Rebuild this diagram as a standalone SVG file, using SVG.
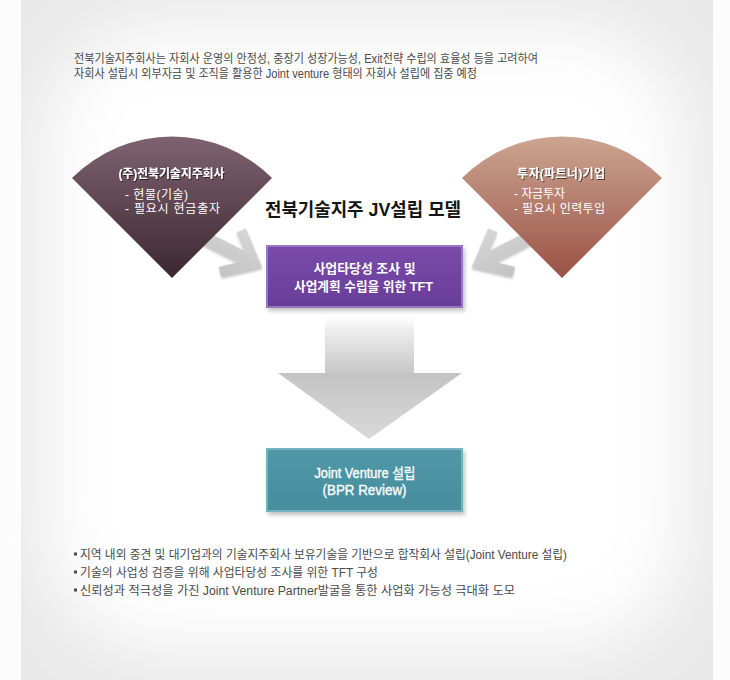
<svg xmlns="http://www.w3.org/2000/svg" width="730" height="680" viewBox="0 0 730 680">
<defs>
<style>
.txt{font-family:"Liberation Sans","Noto Sans CJK KR",sans-serif;}
.intro{font-size:12px;fill:#4a4a4a;}
.note{font-size:12px;fill:#4a4a4a;}
.fanh{font-size:12px;font-weight:bold;fill:#ffffff;}
.fanl{font-size:12px;fill:#ffffff;}
.boxt{font-size:13px;font-weight:bold;fill:#ffffff;}
.jvt{font-size:14px;fill:#ffffff;stroke:#ffffff;stroke-width:0.35;}
.title{font-size:18px;font-weight:bold;fill:#151515;}
.garrow{fill:url(#gArrow);}
</style>
<linearGradient id="gLeft" x1="0" y1="0" x2="0" y2="1">
<stop offset="0" stop-color="#7f6270"/>
<stop offset="1" stop-color="#3b2730"/>
</linearGradient>
<linearGradient id="gRight" x1="0" y1="0" x2="0" y2="1">
<stop offset="0" stop-color="#cca591"/>
<stop offset="1" stop-color="#995145"/>
</linearGradient>
<linearGradient id="gTft" x1="0" y1="0" x2="0" y2="1">
<stop offset="0" stop-color="#7a4bab"/>
<stop offset="1" stop-color="#683d98"/>
</linearGradient>
<linearGradient id="gJv" x1="0" y1="0" x2="0" y2="1">
<stop offset="0" stop-color="#5097a8"/>
<stop offset="1" stop-color="#468d9d"/>
</linearGradient>
<linearGradient id="gShaft" x1="0" y1="0" x2="0" y2="1">
<stop offset="0" stop-color="#ffffff" stop-opacity="0"/>
<stop offset="0.25" stop-color="#f0f0f0"/>
<stop offset="1" stop-color="#c6c6c6"/>
</linearGradient>
<linearGradient id="gHead" x1="0" y1="0" x2="0" y2="1">
<stop offset="0" stop-color="#c3c3c3"/>
<stop offset="1" stop-color="#d9d9d9"/>
</linearGradient>
<linearGradient id="gArrow" x1="0" y1="0" x2="0" y2="1">
<stop offset="0" stop-color="#d6d6d6"/>
<stop offset="1" stop-color="#c2c2c2"/>
</linearGradient>
<filter id="soft" x="-30%" y="-30%" width="160%" height="160%">
<feGaussianBlur stdDeviation="35"/>
</filter>
<filter id="boxShadow" x="-10%" y="-20%" width="120%" height="150%">
<feGaussianBlur stdDeviation="2"/>
</filter>
<filter id="txtShadow" x="-10%" y="-30%" width="120%" height="160%">
<feDropShadow dx="1" dy="1" stdDeviation="0.6" flood-color="#000000" flood-opacity="0.6"/>
</filter>
<filter id="arrShadow" x="-20%" y="-20%" width="140%" height="140%">
<feDropShadow dx="1.5" dy="2" stdDeviation="1" flood-color="#8a8a8a" flood-opacity="0.5"/>
</filter>
</defs>

<g id="background">
<rect x="0" y="0" width="730" height="680" fill="#fcfcfc"/>
<rect x="21" y="0" width="692" height="680" fill="#e9e9e9"/>
<rect x="45" y="25" width="640" height="625" rx="120" fill="#ffffff" filter="url(#soft)"/>
</g>

<g id="intro">
<text class="txt intro" x="74" y="63" textLength="464" lengthAdjust="spacingAndGlyphs">전북기술지주회사는 자회사 운영의 안정성, 중장기 성장가능성, Exit전략 수립의 효율성 등을 고려하여</text>
<text class="txt intro" x="74" y="77.5" textLength="403" lengthAdjust="spacingAndGlyphs">자회사 설립시 외부자금 및 조직을 활용한 Joint venture 형태의 자회사 설립에 집중 예정</text>
</g>

<g id="connectors">
<polygon class="garrow" filter="url(#arrShadow)" transform="translate(262,267) rotate(27)" points="0,0 -32,-27 -38.5,-19.5 -23.5,-6.5 -90,-6.5 -90,6.5 -23.5,6.5 -38.5,19.5 -32,27"/>
<polygon class="garrow" filter="url(#arrShadow)" transform="translate(472,267) scale(-1,1) rotate(27)" points="0,0 -32,-27 -38.5,-19.5 -23.5,-6.5 -90,-6.5 -90,6.5 -23.5,6.5 -38.5,19.5 -32,27"/>
<rect x="325" y="312" width="89" height="62" fill="url(#gShaft)"/>
<polygon points="278,373 462,373 369,439" fill="url(#gHead)"/>
</g>

<g id="node-holding">
<path d="M172,278 L72,178 A141.4,141.4 0 0 1 272,178 Z" fill="url(#gLeft)"/>
<text class="txt fanh" x="171.5" y="177.5" text-anchor="middle" textLength="106" filter="url(#txtShadow)">(주)전북기술지주회사</text>
<text class="txt fanl" x="125" y="198.5" textLength="63">- 현물(기술)</text>
<text class="txt fanl" x="125" y="213" textLength="95">- 필요시 현금출자</text>
</g>

<g id="node-partner">
<path d="M562,278 L462,178 A141.4,141.4 0 0 1 662,178 Z" fill="url(#gRight)"/>
<text class="txt fanh" x="561" y="177.5" text-anchor="middle" textLength="88" filter="url(#txtShadow)">투자(파트너)기업</text>
<text class="txt fanl" x="514" y="198" textLength="51">- 자금투자</text>
<text class="txt fanl" x="514" y="213" textLength="91">- 필요시 인력투입</text>
</g>

<g id="node-title">
<text class="txt title" x="363" y="215.5" text-anchor="middle" textLength="196" lengthAdjust="spacingAndGlyphs">전북기술지주 JV설립 모델</text>
</g>

<g id="node-tft">
<rect x="268" y="248" width="197" height="63" fill="#9a9a9a" opacity="0.6" filter="url(#boxShadow)"/>
<rect x="266" y="245" width="197" height="63" fill="url(#gTft)"/>
<rect x="267" y="246" width="195" height="61" fill="none" stroke="#a688cc" stroke-width="1.5"/>
<text class="txt boxt" x="364.5" y="272.5" text-anchor="middle" textLength="102" lengthAdjust="spacingAndGlyphs">사업타당성 조사 및</text>
<text class="txt boxt" x="363.5" y="290.5" text-anchor="middle" textLength="139" lengthAdjust="spacingAndGlyphs">사업계획 수립을 위한 TFT</text>
</g>

<g id="node-jv">
<rect x="268" y="451" width="197" height="64" fill="#9a9a9a" opacity="0.6" filter="url(#boxShadow)"/>
<rect x="266" y="448" width="197" height="64" fill="url(#gJv)"/>
<rect x="267" y="449" width="195" height="62" fill="none" stroke="#84bcc8" stroke-width="1.5"/>
<text class="txt jvt" x="365" y="478" text-anchor="middle" textLength="101" lengthAdjust="spacingAndGlyphs">Joint Venture 설립</text>
<text class="txt jvt" x="364.5" y="495" text-anchor="middle" textLength="84" lengthAdjust="spacingAndGlyphs">(BPR Review)</text>
</g>

<g id="notes">
<rect x="74" y="552.5" width="3" height="3" fill="#4a4a4a"/>
<rect x="74" y="570.5" width="3" height="3" fill="#4a4a4a"/>
<rect x="74" y="588.5" width="3" height="3" fill="#4a4a4a"/>
<text class="txt note" x="80" y="558.5" textLength="487" lengthAdjust="spacingAndGlyphs">지역 내외 중견 및 대기업과의 기술지주회사 보유기술을 기반으로 합작회사 설립(Joint Venture 설립)</text>
<text class="txt note" x="80" y="576.5" textLength="298" lengthAdjust="spacingAndGlyphs">기술의 사업성 검증을 위해 사업타당성 조사를 위한 TFT 구성</text>
<text class="txt note" x="80" y="594.5" textLength="435" lengthAdjust="spacingAndGlyphs">신뢰성과 적극성을 가진 Joint Venture Partner발굴을 통한 사업화 가능성 극대화 도모</text>
</g>
</svg>
